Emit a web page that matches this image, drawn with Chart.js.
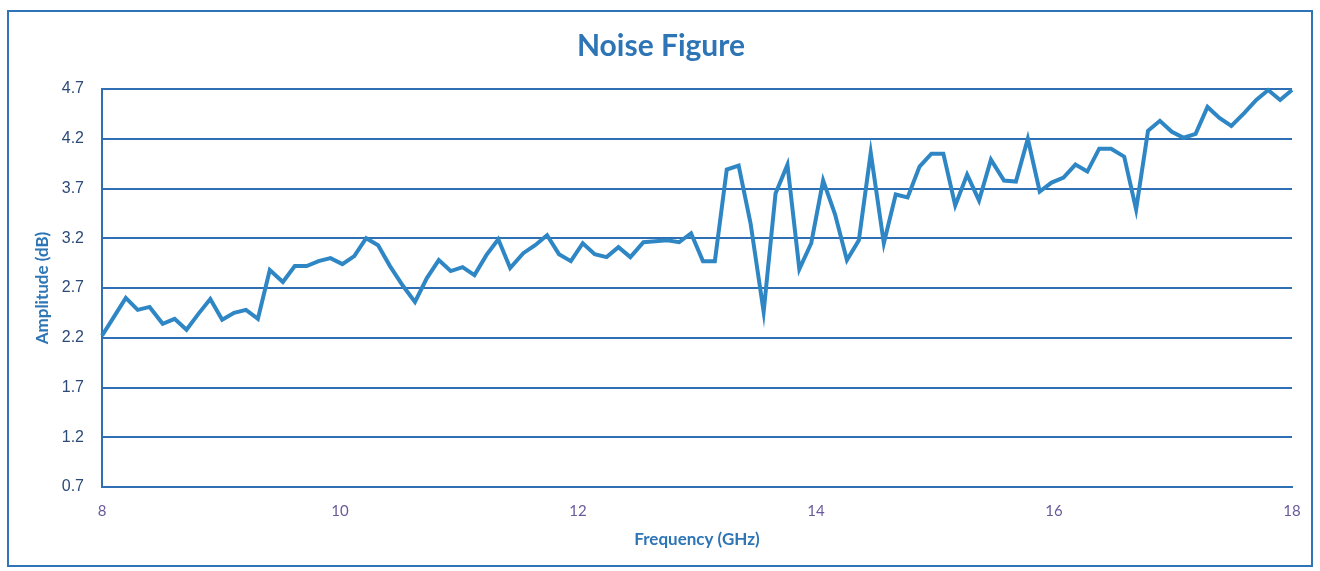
<!DOCTYPE html>
<html lang="en">
<head>
    <meta charset="UTF-8">
    <title>Noise Figure</title>
    <script src="https://cdn.jsdelivr.net/npm/chart.js"></script>
    <style>
        body {
            margin: 0;
            background: #ffffff;
        }
        #box {
            width: 1320px;
            height: 571px;
        }
    </style>
</head>
<body>
    <div id="box"><canvas id="nfChart"></canvas></div>

    <script>
        // Frequency sweep (GHz), 100 points from 8 to 18
        const frequencies = [
            8.00, 8.10, 8.20, 8.30, 8.40, 8.51, 8.61, 8.71, 8.81, 8.91,
            9.01, 9.11, 9.21, 9.31, 9.41, 9.52, 9.62, 9.72, 9.82, 9.92,
            10.02, 10.12, 10.22, 10.32, 10.42, 10.53, 10.63, 10.73, 10.83, 10.93,
            11.03, 11.13, 11.23, 11.33, 11.43, 11.54, 11.64, 11.74, 11.84, 11.94,
            12.04, 12.14, 12.24, 12.34, 12.44, 12.55, 12.65, 12.75, 12.85, 12.95,
            13.05, 13.15, 13.25, 13.35, 13.45, 13.56, 13.66, 13.76, 13.86, 13.96,
            14.06, 14.16, 14.26, 14.36, 14.46, 14.57, 14.67, 14.77, 14.87, 14.97,
            15.07, 15.17, 15.27, 15.37, 15.47, 15.58, 15.68, 15.78, 15.88, 15.98,
            16.08, 16.18, 16.28, 16.38, 16.48, 16.59, 16.69, 16.79, 16.89, 16.99,
            17.09, 17.19, 17.29, 17.39, 17.49, 17.60, 17.70, 17.80, 17.90, 18.00
        ];

        // Noise figure (dB)
        const noiseFigure = [
            2.22, 2.41, 2.60, 2.48, 2.51, 2.34, 2.39, 2.28, 2.44, 2.59,
            2.38, 2.45, 2.48, 2.39, 2.88, 2.76, 2.92, 2.92, 2.97, 3.00,
            2.94, 3.02, 3.20, 3.13, 2.92, 2.72, 2.56, 2.80, 2.98, 2.87,
            2.91, 2.83, 3.03, 3.19, 2.90, 3.05, 3.13, 3.23, 3.04, 2.97,
            3.15, 3.04, 3.01, 3.11, 3.01, 3.16, 3.17, 3.18, 3.16, 3.25,
            2.97, 2.97, 3.89, 3.93, 3.35, 2.46, 3.65, 3.94, 2.89, 3.15,
            3.78, 3.44, 2.98, 3.18, 4.06, 3.15, 3.64, 3.61, 3.92, 4.05,
            4.05, 3.53, 3.84, 3.58, 3.99, 3.78, 3.77, 4.20, 3.67, 3.76,
            3.81, 3.94, 3.87, 4.10, 4.10, 4.02, 3.49, 4.28, 4.38, 4.27,
            4.21, 4.25, 4.52, 4.41, 4.33, 4.46, 4.59, 4.69, 4.59, 4.69
        ];

        const xTicks = [8, 10, 12, 14, 16, 18];
        const yTicks = [0.7, 1.2, 1.7, 2.2, 2.7, 3.2, 3.7, 4.2, 4.7];

        // Outer frame round the whole chart
        const framePlugin = {
            id: 'frame',
            beforeDraw(chart) {
                const ctx = chart.ctx;
                ctx.save();
                ctx.fillStyle = '#ffffff';
                ctx.fillRect(0, 0, chart.width, chart.height);
                ctx.strokeStyle = '#2f74b8';
                ctx.lineWidth = 2;
                ctx.strokeRect(8, 11, chart.width - 16, chart.height - 16);
                ctx.restore();
            }
        };

        new Chart(document.getElementById('nfChart'), {
            type: 'line',
            data: {
                datasets: [{
                    label: 'Noise Figure',
                    data: frequencies.map((f, i) => ({ x: f, y: noiseFigure[i] })),
                    borderColor: '#2e87c4',
                    borderWidth: 4,
                    pointRadius: 0,
                    tension: 0,
                    fill: false,
                    clip: false
                }]
            },
            options: {
                responsive: true,
                maintainAspectRatio: false,
                animation: false,
                layout: {
                    padding: { left: 30, right: 28, top: 0, bottom: 21 }
                },
                plugins: {
                    legend: { display: false },
                    tooltip: { enabled: false },
                    title: {
                        display: true,
                        text: 'Noise Figure',
                        color: '#2e75b6',
                        font: { family: 'Lato', size: 30, weight: 'bold' },
                        padding: { top: 28, bottom: 25 }
                    }
                },
                scales: {
                    x: {
                        type: 'linear',
                        min: 8,
                        max: 18,
                        afterBuildTicks: axis => { axis.ticks = xTicks.map(v => ({ value: v })); },
                        afterFit: axis => { axis.height = 63; },
                        grid: { display: false, drawTicks: false },
                        border: { display: true, color: '#2f6fb3', width: 2 },
                        ticks: {
                            padding: 15,
                            color: '#6a5a9c',
                            font: { family: 'Lato', size: 15 },
                            maxRotation: 0
                        },
                        title: {
                            display: true,
                            text: 'Frequency (GHz)',
                            color: '#2e75b6',
                            font: { family: 'Lato', size: 17, weight: 'bold' },
                            padding: { top: 4, bottom: 0 }
                        }
                    },
                    y: {
                        min: 0.7,
                        max: 4.7,
                        afterBuildTicks: axis => { axis.ticks = yTicks.map(v => ({ value: v })); },
                        afterFit: axis => { axis.width = 72; },
                        grid: { color: '#2f6fb3', lineWidth: 2, drawTicks: false },
                        border: { display: true, color: '#2f6fb3', width: 2 },
                        ticks: {
                            padding: 18,
                            color: '#2c4a78',
                            font: { family: 'Liberation Sans', size: 16 },
                            callback: v => v.toFixed(1)
                        },
                        title: {
                            display: true,
                            text: 'Amplitude (dB)',
                            color: '#2e75b6',
                            font: { family: 'Lato', size: 17, weight: 'bold' },
                            padding: { top: 2, bottom: 4 }
                        }
                    }
                }
            },
            plugins: [framePlugin]
        });
    </script>
</body>
</html>
